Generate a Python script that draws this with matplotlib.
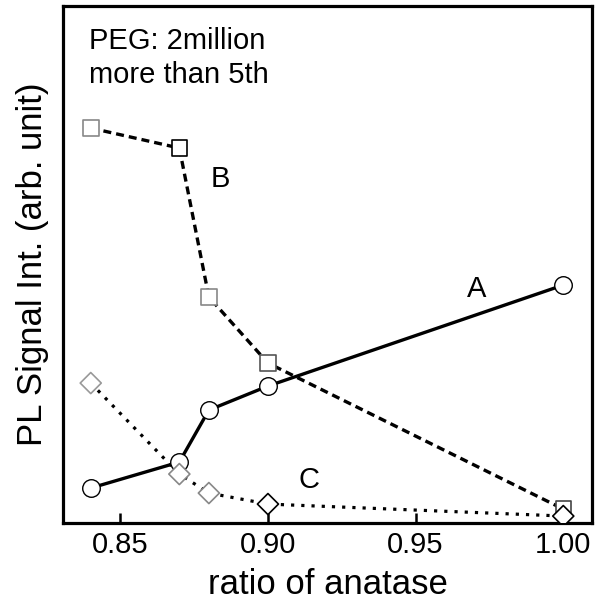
import matplotlib
matplotlib.use("Agg")
import matplotlib.pyplot as plt

plt.rcParams['font.family'] = ['Liberation Sans', 'DejaVu Sans']

# ratio of anatase
ratio = [0.84, 0.87, 0.88, 0.90, 1.00]
# PL signal intensity (arb. unit)
sig_a = [0.35, 0.61, 1.13, 1.37, 2.38]
sig_b = [3.95, 3.75, 2.26, 1.60, 0.14]
sig_c = [1.40, 0.49, 0.30, 0.19, 0.07]
edge_b = ['#888888', 'black', '#888888', '#555555', '#444444']
edge_c = ['#999999', '#888888', '#888888', 'black', 'black']
xticks = [0.85, 0.90, 0.95, 1.00]

fig = plt.figure(figsize=(5.97, 6.04), dpi=100)
ax = fig.add_axes([0.105, 0.134, 0.887, 0.856])

# lines
ax.plot(ratio, sig_a, color='black', lw=2.4, zorder=2)
ax.plot(ratio, sig_b, color='black', lw=2.4, dashes=(2.4, 1.5), zorder=2)
ax.plot(ratio, sig_c, color='black', lw=2.3, dashes=(1.0, 2.2), zorder=2)

# markers
ax.scatter(ratio, sig_a, s=160, marker='o', facecolor='white',
           edgecolor='black', linewidths=1.0, zorder=3)
ax.scatter(ratio, sig_b, s=125, marker='s', facecolor='white',
           edgecolor=edge_b, linewidths=1.2, zorder=3)
ax.scatter(ratio, sig_c, s=115, marker='D', facecolor='white',
           edgecolor=edge_c, linewidths=1.2, zorder=3)

ax.text(0.9708, 2.26, 'A', fontsize=21, ha='center', va='baseline')
ax.text(0.8840, 3.36, 'B', fontsize=21, ha='center', va='baseline')
ax.text(0.9138, 0.35, 'C', fontsize=21, ha='center', va='baseline')

ax.text(0.8395, 4.74, 'PEG: 2million', fontsize=21, ha='left', va='baseline')
ax.text(0.8395, 4.40, 'more than 5th', fontsize=21, ha='left', va='baseline')

ax.set_xlim(0.8305, 1.0098)
ax.set_ylim(0, 5.17)
ax.set_xticks(xticks)
ax.set_xticklabels(['%.2f' % t for t in xticks])
ax.set_yticks([])
ax.tick_params(axis='x', direction='in', length=7, width=1.8, labelsize=21, pad=6)
for s in ax.spines.values():
    s.set_linewidth(2.3)

ax.set_xlabel('ratio of anatase', fontsize=25, labelpad=6)
ax.set_ylabel('PL Signal Int. (arb. unit)', fontsize=25, labelpad=10)

fig.savefig('out.png', dpi=100)
